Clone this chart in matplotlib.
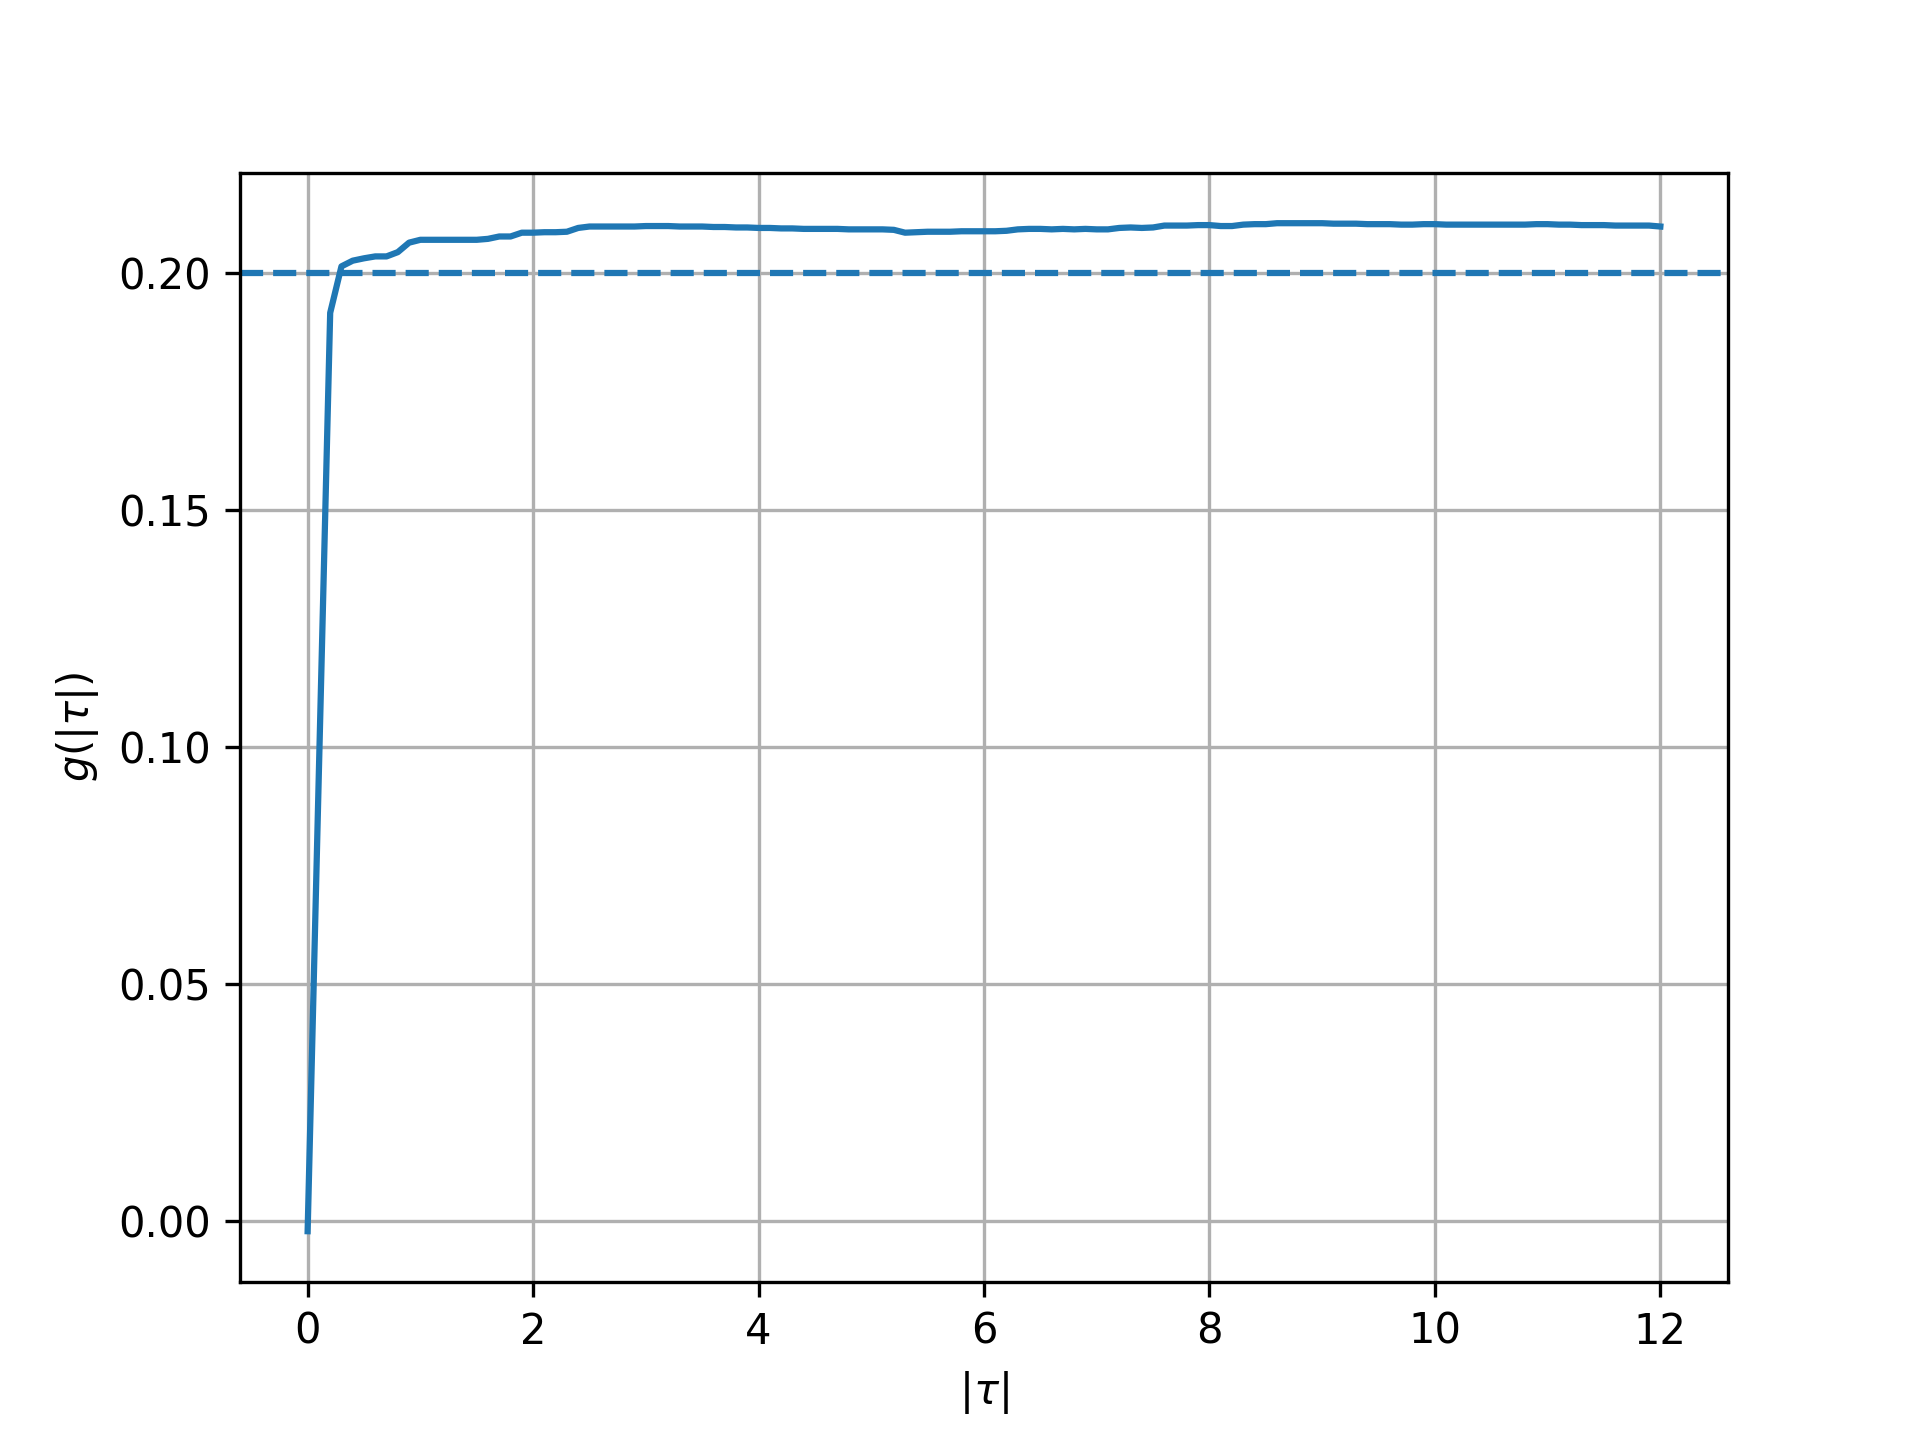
import matplotlib
matplotlib.use("Agg")
import matplotlib.pyplot as plt
import numpy as np

# valores (passo 0.1 em |tau|)
tau = np.round(np.arange(0, 121) * 0.1, 1)
g = [
    -0.0021, 0.0950, 0.1915, 0.2013, 0.2025, 0.2030, 0.2034, 0.2034, 0.2043, 0.2063,
    0.2069, 0.2069, 0.2069, 0.2069, 0.2069, 0.2069, 0.2071, 0.2076, 0.2076, 0.2084,
    0.2084, 0.2085, 0.2085, 0.2086, 0.2094, 0.2097, 0.2097, 0.2097, 0.2097, 0.2097,
    0.2098, 0.2098, 0.2098, 0.2097, 0.2097, 0.2097, 0.2096, 0.2096, 0.2095, 0.2095,
    0.2094, 0.2094, 0.2093, 0.2093, 0.2092, 0.2092, 0.2092, 0.2092, 0.2091, 0.2091,
    0.2091, 0.2091, 0.2090, 0.2084, 0.2085, 0.2086, 0.2086, 0.2086, 0.2087, 0.2087,
    0.2087, 0.2087, 0.2088, 0.2091, 0.2092, 0.2092, 0.2091, 0.2092, 0.2091, 0.2092,
    0.2091, 0.2091, 0.2094, 0.2095, 0.2094, 0.2095, 0.2099, 0.2099, 0.2099, 0.2100,
    0.2100, 0.2098, 0.2098, 0.2101, 0.2102, 0.2102, 0.2104, 0.2104, 0.2104, 0.2104,
    0.2104, 0.2103, 0.2103, 0.2103, 0.2102, 0.2102, 0.2102, 0.2101, 0.2101, 0.2102,
    0.2102, 0.2101, 0.2101, 0.2101, 0.2101, 0.2101, 0.2101, 0.2101, 0.2101, 0.2102,
    0.2102, 0.2101, 0.2101, 0.2100, 0.2100, 0.2100, 0.2099, 0.2099, 0.2099, 0.2099,
    0.2097,
]
nivel = 0.2  # valor de referência (linha tracejada)

plt.figure(figsize=(6.4, 4.8), dpi=300)
plt.plot(tau, g)
plt.axhline(nivel, linestyle="--")
plt.xlabel(r"$|\tau|$")
plt.ylabel(r"$g(|\tau|)$")
plt.grid()
plt.savefig("out.png", dpi=300)
plt.close()
